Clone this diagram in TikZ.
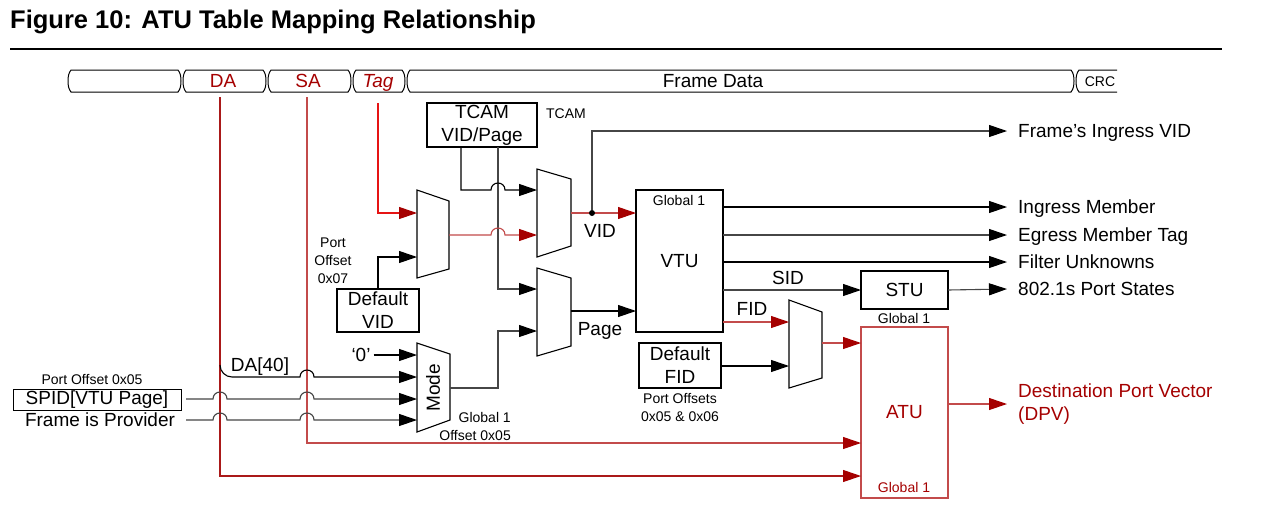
\documentclass[tikz,border=0pt]{standalone}
\usepackage{fontspec}
\setmainfont{Liberation Sans}
\usetikzlibrary{arrows.meta}
\definecolor{dred}{RGB}{165,0,0}
\definecolor{mred}{RGB}{170,25,25}
\definecolor{lred}{RGB}{195,75,75}
\definecolor{bred}{RGB}{230,20,20}
\definecolor{lgray}{RGB}{70,70,70}
\begin{document}
\begin{tikzpicture}[x=1pt,y=-1pt,
  ln/.style={line width=1.1pt,draw=black},
  gln/.style={line width=1.1pt,draw=lgray},
  rln/.style={line width=1.1pt,draw=lred},
  dln/.style={line width=1.1pt,draw=mred},
  bln/.style={line width=1.1pt,draw=bred},
  arr/.style={-{Triangle[length=18pt,width=12pt,color=black]}},
  rarr/.style={-{Triangle[length=18pt,width=12pt,color=dred]}},
  mfont/.style={font=\fontsize{19}{23}\selectfont},
  sfont/.style={font=\fontsize{14}{18}\selectfont},
  lab/.style={mfont,inner sep=0pt,text height=13.6pt,text depth=0pt},
  slab/.style={sfont,inner sep=0pt,text height=10pt,text depth=0pt},
  box/.style={draw,line width=1.1pt,inner sep=0pt,outer sep=0pt,align=center,mfont},
  mux/.style={draw,line width=1.1pt,fill=white},
  segline/.style={line width=1pt,draw=black},
  jdot/.style={circle,fill=black,inner sep=0pt,minimum size=6pt},
]
\fill[white] (0,0) rectangle (1266,507);
\useasboundingbox (0,0) rectangle (1266,507);

% title
\node[anchor=base west,inner sep=0pt,font=\bfseries\fontsize{25.5}{30}\selectfont] (title) at (10,28) {Figure 10: ATU Table Mapping Relationship};
\draw[line width=2pt] (10,49) -- (1222,49);

% frame bar
\foreach \a/\b in {68/181,183/266,268/351,353/405,407/1074} {
  \draw[segline] (\a+3,70) -- (\b-3,70) .. controls (\b-0.5,73) and (\b,77) .. (\b,81)
     .. controls (\b,85) and (\b-0.5,89) .. (\b-3,92) -- (\a+3,92)
     .. controls (\a+0.5,89) and (\a,85) .. (\a,81) .. controls (\a,77) and (\a+0.5,73) .. cycle;
}
\draw[segline] (1117,70) -- (1079,70) .. controls (1076.5,73) and (1076,77) .. (1076,81)
     .. controls (1076,85) and (1076.5,89) .. (1079,92) -- (1117,92);
\node[lab,text=dred] (da) at (223,81) {DA};
\node[lab,text=dred] (sa) at (308,81) {SA};
\node[lab,text=dred,font=\itshape\fontsize{19}{23}\selectfont] (tag) at (378,81) {Tag};
\node[lab] (fdata) at (713,81) {Frame Data};
\node[slab] (crc) at (1100,81) {CRC};

% boxes
\node[box,minimum width=110,minimum height=44] (tcam) at (482,125) {TCAM\\VID/Page};
\node[slab] (tcaml) at (566,113) {TCAM};
\node[box,minimum width=82,minimum height=43] (defvid) at (378,310.5) {Default\\VID};
\node[box,minimum width=87,minimum height=142] (vtu) at (679.5,261) {VTU};
\node[slab] (vtug) at (679,200) {Global 1};
\node[box,minimum width=87,minimum height=38] (stu) at (904.5,290) {STU};
\node[slab] (stug) at (904,318) {Global 1};
\node[box,draw=lred,text=dred,minimum width=87,minimum height=171] (atu) at (904.5,412.5) {ATU};
\node[slab,text=dred] (atug) at (904,487) {Global 1};
\node[box,minimum width=82,minimum height=45] (deffid) at (680,365.5) {Default\\FID};
\node[sfont,align=center,inner sep=0pt] (pofs) at (680,407) {Port Offsets\\0x05 \& 0x06};
\node[box,line width=1pt,minimum width=168,minimum height=21] (spid) at (97,399.5) {SPID[VTU Page]};
\node[slab] (po5) at (92,379) {Port Offset 0x05};
\node[lab] (prov) at (100,420) {Frame is Provider};
\node[sfont,align=center,inner sep=0pt] (po7) at (333,261) {Port\\Offset\\0x07};

% right labels
\node[lab,anchor=west] (fiv) at (1018,131) {Frame’s Ingress VID};
\node[lab,anchor=west] (ingm) at (1018,207) {Ingress Member};
\node[lab,anchor=west] (egm) at (1018,235) {Egress Member Tag};
\node[lab,anchor=west] (flt) at (1018,262) {Filter Unknowns};
\node[lab,anchor=west] (pst) at (1018,289) {802.1s Port States};
\node[mfont,anchor=west,align=left,inner sep=0pt,text=dred] (dpv) at (1018,404) {Destination Port Vector\\(DPV)};

% muxes
\draw[mux] (417,190) -- (449,201) -- (449,269) -- (417,278) -- cycle;
\draw[mux] (537,169) -- (571,179) -- (571,246) -- (537,257) -- cycle;
\draw[mux] (537,268) -- (571,278) -- (571,346) -- (537,356) -- cycle;
\draw[mux] (417,343) -- (450,354) -- (450,420) -- (417,432) -- cycle;
\draw[mux] (789,300) -- (822,312) -- (822,378) -- (789,388) -- cycle;
\node[lab,rotate=90] (model) at (433,388) {Mode};

\coordinate (m1a) at (417,213); \coordinate (m1b) at (417,257); \coordinate (m1o) at (449,235);
\coordinate (m2a) at (537,190); \coordinate (m2b) at (537,235); \coordinate (m2o) at (571,213);
\coordinate (m3a) at (537,289); \coordinate (m3b) at (537,331); \coordinate (m3o) at (571,311);
\coordinate (md0) at (417,355); \coordinate (md1) at (417,377); \coordinate (md2) at (417,399);
\coordinate (md3) at (417,420); \coordinate (mdo) at (450,388);
\coordinate (fa) at (789,322); \coordinate (fb) at (789,366); \coordinate (fo) at (822,343);
\coordinate (t1) at (461,147); \coordinate (t2) at (498,147);
\coordinate (tagT) at (378,103); \coordinate (saT) at (307,97); \coordinate (daT) at (220,97);
\coordinate (sa2) at (307,443); \coordinate (da2) at (220,476);

% other labels
\node[lab] (vidl) at (600,231) {VID};
\node[lab] (pagel) at (600,329) {Page};
\node[lab] (sidl) at (788,278) {SID};
\node[lab] (fidl) at (752,309) {FID};
\node[lab] (zero) at (361,355) {‘0’};
\node[lab] (da40) at (260,365) {DA[40]};
\node[sfont,align=right,inner sep=0pt,anchor=east] (g1o) at (511,426) {Global 1\\Offset 0x05};

% SA and DA to ATU
\draw[rln,rarr] (saT) -- (sa2) -- (atu.west |- sa2);
\draw[dln,rarr] (daT) -- (da2) -- (atu.west |- da2);

% Tag to mux1
\draw[bln,rarr] (tagT) -- (tagT |- m1a) -- (m1a);
\draw[ln,arr] (defvid.north) -- (defvid.north |- m1b) -- (m1b);
% TCAM outputs
\draw[gln,arr] (t2) -- (t2 |- m3a) -- (m3a);
\draw[ln,arr] (t1) -- (t1 |- m2a) -- (491,190) .. controls (491,180.7) and (505,180.7) .. (505,190) -- (m2a);
\draw[rln,rarr] (m1o) -- (491,235) .. controls (491,225.7) and (505,225.7) .. (505,235) -- (m2b);
% mux2 out
\draw[rln,rarr] (m2o) -- (vtu.west |- m2o);
\node[jdot] (jd) at (592,213) {};
\draw[gln,arr] (jd) -- (jd |- fiv) -- ([xshift=-11pt]fiv.west);
% mux3
\draw[ln,arr] (m3o) -- (vtu.west |- m3o);
\draw[gln,arr] (mdo) -- (498,388) -- (498,331) -- (m3b);
% mode inputs
\draw[ln,arr] ([xshift=3pt]zero.east) -- (md0);
\draw[ln,arr] (220,365) .. controls (220,371.6) and (225.4,377) .. (232,377) -- (300,377)
   .. controls (300,367.7) and (314,367.7) .. (314,377) -- (md1);
\draw[gln,arr] ([xshift=5pt]spid.east |- md2) -- (213,399) .. controls (213,389.7) and (227,389.7) .. (227,399)
   -- (300,399) .. controls (300,389.7) and (314,389.7) .. (314,399) -- (md2);
\draw[gln,arr] ([xshift=5pt]spid.east |- md3) -- (213,420) .. controls (213,410.7) and (227,410.7) .. (227,420)
   -- (300,420) .. controls (300,410.7) and (314,410.7) .. (314,420) -- (md3);
% VTU outputs
\draw[ln,arr] (vtu.east |- ingm) -- ([xshift=-11pt]ingm.west);
\draw[gln,arr] (vtu.east |- egm) -- ([xshift=-11pt]egm.west);
\draw[ln,arr] (vtu.east |- flt) -- ([xshift=-11pt]flt.west);
\draw[gln,arr] (vtu.east |- stu) -- (stu.west);
\draw[rln,rarr] (vtu.east |- fa) -- (fa);
\draw[gln,arr] (stu.east) -- ([xshift=-11pt]pst.west);
\draw[ln,arr] (deffid.east |- fb) -- (fb);
\draw[rln,rarr] (fo) -- (atu.west |- fo);
\draw[rln,rarr] (atu.east |- dpv) -- ([xshift=-11pt]dpv.west);
\end{tikzpicture}
\end{document}
